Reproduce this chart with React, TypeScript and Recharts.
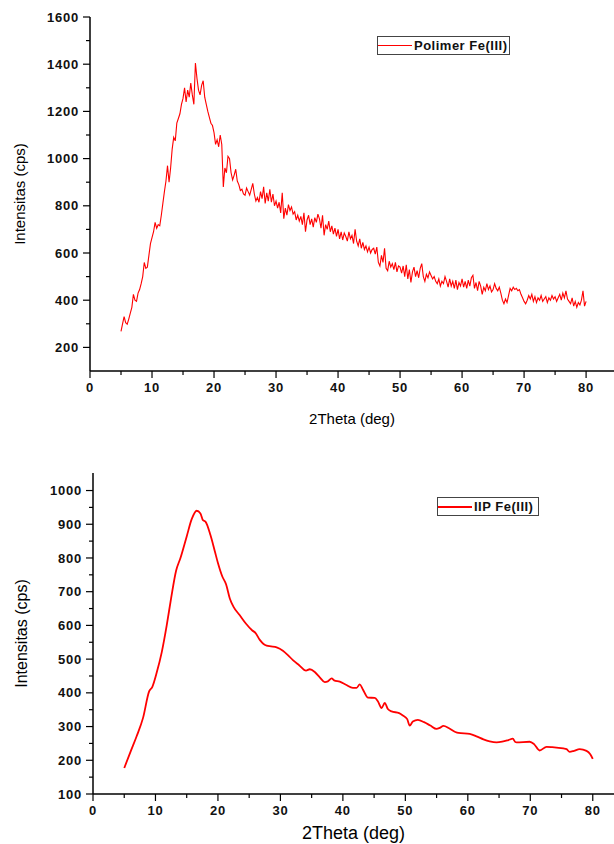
import React from 'react';
import { LineChart, Line, XAxis, YAxis, Legend, Label } from 'recharts';

const FONT = '"Liberation Sans", Arial, sans-serif';
const RED = '#ff0000';

// Polimer Fe(III): counts read every 0.25 deg, 5 -> 80
const polimerCounts = [
  268, 300, 330, 305, 298, 320, 345, 370, 425, 400, 395, 430, 445, 470, 500, 560, 535, 540, 590, 640,
  665, 690, 730, 705, 720, 715, 760, 810, 860, 905, 970, 900, 960, 1040, 1090, 1075, 1150, 1170, 1190, 1230,
  1255, 1300, 1240, 1290, 1260, 1320, 1270, 1230, 1405, 1340, 1290, 1270, 1310, 1330, 1260, 1230, 1200, 1175, 1150, 1140,
  1110, 1060, 1080, 1050, 1100, 1060, 880, 960, 940, 1010, 1000, 940, 910, 930, 955, 905, 890, 865, 870, 850,
  845, 875, 860, 845, 870, 895, 850, 820, 835, 815, 860, 830, 880, 810, 855, 820, 870, 815, 850, 800,
  820, 790, 815, 770, 855, 745, 790, 760, 805, 780, 795, 765, 775, 740, 760, 735, 755, 720, 770, 690,
  740, 760, 720, 745, 710, 750, 730, 765, 745, 705, 760, 675, 720, 700, 735, 690, 715, 680, 705, 670,
  700, 660, 690, 655, 685, 670, 650, 690, 660, 675, 640, 700, 650, 630, 660, 620, 645, 615, 630, 605,
  625, 600, 615, 620, 595, 625, 560, 545, 590, 560, 620, 535, 525, 565, 540, 555, 530, 560, 520, 545,
  540, 515, 545, 500, 550, 490, 530, 475, 520, 540, 500, 525, 495, 535, 555, 500, 480, 510, 495, 520,
  505, 490, 500, 480, 470, 490, 460, 480, 470, 500, 480, 455, 490, 460, 480, 450, 485, 445, 475, 460,
  490, 455, 480, 450, 485, 460, 495, 505, 450, 475, 440, 480, 460, 425, 455, 440, 470, 445, 460, 435,
  445, 470, 450, 440, 455, 430, 400, 385, 405, 390, 420, 450, 440, 455, 445, 450, 440, 445, 425, 410,
  395, 385, 400, 420, 405, 425, 395, 415, 390, 410, 400, 420, 395, 405, 415, 390, 410, 400, 420, 405,
  415, 395, 410, 425, 400, 430, 410, 440, 405, 395, 385, 410, 375, 395, 370, 390, 380, 400, 440, 375,
  395,
];
const polimerTheta = polimerCounts.map((_, i) => 5 + i * 0.25);

// IIP Fe(III)
const iipTheta = [
  5, 6, 7, 8, 9, 9.5, 10.2, 11, 11.8, 12.5, 13.3, 14, 15, 15.8, 16.6, 17.2, 17.6, 18, 18.8, 19.5,
  20, 20.7, 21.3, 21.9, 22.5, 23.5, 24.5, 25.5, 26, 26.7, 27.3, 27.8, 28.5, 29.4, 30.4, 31.2, 32, 33, 34.1, 34.7,
  35.5, 36.3, 37.1, 37.6, 38.2, 38.6, 39.5, 40.5, 41.6, 42.2, 42.7, 43.2, 44, 45.1, 45.6, 46.2, 46.7, 47.2, 47.8, 49,
  49.6, 50.3, 50.7, 51.2, 52, 53, 54, 55, 55.5, 56.1, 57, 58, 58.5, 60.3, 61.5, 62.5, 63.5, 64.6, 65.5, 66.5,
  67.2, 67.6, 67.8, 69.9, 70.6, 71.5, 72.6, 73.5, 75.3, 75.8, 76.3, 77, 77.9, 79, 79.6, 80,
];
const iipCounts = [
  177, 225, 272, 325, 405, 418, 460, 520, 600, 680, 762, 800, 864, 915, 940, 932, 912, 908, 868, 820,
  785, 745, 722, 680, 655, 630, 605, 585, 578, 557, 545, 540, 538, 535, 525, 512, 497, 482, 466, 470,
  462, 446, 432, 434, 443, 437, 433, 424, 415, 415, 425, 410, 386, 385, 375, 355, 370, 352, 345, 340,
  333, 322, 303, 315, 320, 313, 303, 293, 296, 302, 295, 284, 281, 278, 270, 262, 256, 253, 255, 260,
  264, 254, 253, 255, 248, 229, 240, 239, 235, 233, 225, 228, 233, 228, 218, 204,
];

const thetaTicks = [0, 5, 10, 15, 20, 25, 30, 35, 40, 45, 50, 55, 60, 65, 70, 75, 80];
const polimerTicks = [200, 300, 400, 500, 600, 700, 800, 900, 1000, 1100, 1200, 1300, 1400, 1500, 1600];
const iipTicks = [100, 150, 200, 250, 300, 350, 400, 450, 500, 550, 600, 650, 700, 750, 800, 850, 900, 950, 1000];

const polimerData = polimerTheta.map((t, i) => ({ theta: t, cps: polimerCounts[i] }));
const iipData = iipTheta.map((t, i) => ({ theta: t, cps: iipCounts[i] }));

const TICK = 7;
const MINOR = 4;
const GAP = 4;

const tickText = { fontFamily: FONT, fontSize: 13, fontWeight: 700, fill: '#111', letterSpacing: 0.8 };

// custom ticks: long tick + label for major, short tick for minor
const makeYTick = (step: number) => (props: any) => {
  const { x, y, payload } = props;
  const major = payload.value % step === 0;
  const ax = x + GAP + TICK;
  return (
    <g>
      <line x1={ax - (major ? TICK : MINOR)} x2={ax} y1={y} y2={y} stroke="#000" strokeWidth={1.2} />
      {major && (
        <text x={x} y={y} dy={4.6} textAnchor="end" style={tickText}>{payload.value}</text>
      )}
    </g>
  );
};

const XTick = (props: any) => {
  const { x, y, payload } = props;
  const major = payload.value % 10 === 0;
  const ay = y - GAP - TICK;
  return (
    <g>
      <line x1={x} x2={x} y1={ay} y2={ay + (major ? TICK : MINOR)} stroke="#000" strokeWidth={1.2} />
      {major && (
        <text x={x} y={y} dy={10} textAnchor="middle" style={tickText}>{payload.value}</text>
      )}
    </g>
  );
};

const LegendBox = ({ name, width, lineW }: { name: string; width: number; lineW: number }) => (
  <div
    style={{
      boxSizing: 'border-box', width, height: 19, border: '1px solid #444', background: '#fff',
      display: 'flex', alignItems: 'center', fontFamily: FONT, fontSize: 13, fontWeight: 700, color: '#111',
      letterSpacing: 0.5,
    }}
  >
    <div style={{ width: 34, height: 0, borderTop: `${lineW}px solid ${RED}`, marginRight: 2 }} />
    <span>{name}</span>
  </div>
);

const axisLine = { stroke: '#000', strokeWidth: 1.5 };

const App = () => {
  return (
    <div style={{ position: 'absolute', left: 0, top: 0, width: 614, height: 844, background: '#fff' }}>
      <div style={{ position: 'absolute', left: 0, top: 0 }}>
        <LineChart width={614} height={440} data={polimerData} margin={{ top: 17, right: 0, left: 0, bottom: 39 }}>
          <XAxis
            dataKey="theta" type="number" domain={[0, 84.5]} ticks={thetaTicks} interval={0}
            height={30} tickSize={TICK} tickMargin={GAP} tickLine={false} axisLine={axisLine} tick={<XTick />}
          >
            <Label value="2Theta (deg)" position="bottom" offset={12}
              style={{ fontFamily: FONT, fontSize: 15, fill: '#000' }} />
          </XAxis>
          <YAxis
            type="number" domain={[100, 1600]} ticks={polimerTicks} interval={0} allowDataOverflow
            width={90} tickSize={TICK} tickMargin={GAP} tickLine={false} axisLine={axisLine} tick={makeYTick(200)}
          >
            <Label value="Intensitas (cps)" angle={-90} position="insideLeft" offset={20}
              style={{ fontFamily: FONT, fontSize: 15, fill: '#000', textAnchor: 'middle' }} />
          </YAxis>
          <Legend
            layout="horizontal" verticalAlign="middle" align="center"
            wrapperStyle={{ left: 377, top: 36, width: 133, height: 19 }}
            content={() => <LegendBox name="Polimer Fe(III)" width={133} lineW={1} />}
          />
          <Line
            dataKey="cps" name="Polimer Fe(III)" type="linear" stroke={RED} strokeWidth={1.1}
            dot={false} isAnimationActive={false}
          />
        </LineChart>
      </div>
      <div style={{ position: 'absolute', left: 0, top: 440 }}>
        <LineChart width={614} height={404} data={iipData} margin={{ top: 33, right: 0, left: 0, bottom: 20 }}>
          <XAxis
            dataKey="theta" type="number" domain={[0, 83.4]} ticks={thetaTicks} interval={0}
            height={30} tickSize={TICK} tickMargin={GAP} tickLine={false} axisLine={axisLine} tick={<XTick />}
          >
            <Label value="2Theta (deg)" position="bottom" offset={2}
              style={{ fontFamily: FONT, fontSize: 18, fill: '#000' }} />
          </XAxis>
          <YAxis
            type="number" domain={[100, 1052]} ticks={iipTicks} interval={0} allowDataOverflow
            width={93} tickSize={TICK} tickMargin={GAP} tickLine={false} axisLine={axisLine} tick={makeYTick(100)}
          >
            <Label value="Intensitas (cps)" angle={-90} position="insideLeft" offset={21}
              style={{ fontFamily: FONT, fontSize: 16, fill: '#000', textAnchor: 'middle' }} />
          </YAxis>
          <Legend
            layout="horizontal" verticalAlign="middle" align="center"
            wrapperStyle={{ left: 437, top: 57, width: 102, height: 19 }}
            content={() => <LegendBox name="IIP Fe(III)" width={102} lineW={2} />}
          />
          <Line
            dataKey="cps" name="IIP Fe(III)" type="monotone" stroke={RED} strokeWidth={1.8}
            dot={false} isAnimationActive={false}
          />
        </LineChart>
      </div>
    </div>
  );
};

export default App;
